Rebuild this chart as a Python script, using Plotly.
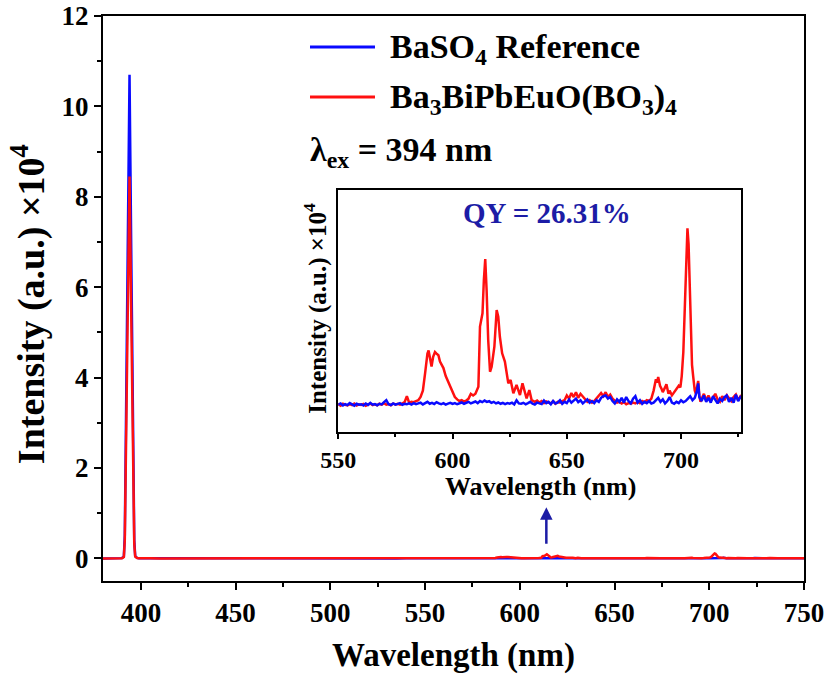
import plotly.graph_objects as go

# Emission spectra, intensities in a.u. (plotted in units of 10^4)
# BaSO4 reference: (wavelength nm, intensity)
REF_POINTS = [
    (380, 5), (383, 7), (386, 10), (388, 20), (389, 35), (390, 60), (391, 350),
    (391.5, 5000), (392, 25000), (393, 68000), (394, 107000), (395, 64000),
    (396, 20000), (396.5, 4000), (397, 500), (398, 120), (399, 40), (400, 15),
    (405, 6), (410, 9), (415, 3), (420, 8), (425, 5), (430, 10), (435, 4),
    (440, 7), (445, 2), (450, 9), (455, 5), (460, 8), (465, 3), (470, 6),
    (475, 9), (480, 4), (485, 7), (490, 2), (495, 8), (500, 5), (505, 9),
    (510, 3), (515, 6), (520, 8), (525, 4), (530, 7), (535, 2), (540, 9), (545, 5),
    (550, 4), (551, 10), (552, -2), (553, 6), (554, 0), (555, 12), (556, 3),
    (557, -4), (558, 8), (559, 2), (560, 5), (561, -3), (562, 9), (563, 1),
    (564, 14), (565, 2), (566, 6), (567, -1), (568, 8), (569, 4), (570, 18),
    (571, 30), (572, 5), (573, 0), (574, 10), (575, 3), (576, 7), (577, 12),
    (578, 2), (579, 8), (580, 5), (581, 10), (582, 3), (583, 12), (584, 6),
    (585, 9), (586, 15), (587, 4), (588, 11), (589, 20), (590, 8), (591, 14),
    (592, 6), (593, 18), (594, 10), (595, 5), (596, 12), (597, 3), (598, 9),
    (599, 14), (600, 7), (601, 12), (602, 5), (603, 10), (604, 16), (605, 8),
    (606, 13), (607, 20), (608, 10), (609, 15), (610, 22), (611, 12), (612, 25),
    (613, 18), (614, 28), (615, 20), (616, 24), (617, 14), (618, 20), (619, 10),
    (620, 16), (621, 8), (622, 14), (623, 6), (624, 12), (625, 9), (626, 15),
    (627, 4), (628, 30), (629, 10), (630, 8), (631, 14), (632, 5), (633, 12),
    (634, 20), (635, 8), (636, 3), (637, 15), (638, 10), (639, 6), (640, 28),
    (641, 12), (642, 20), (643, 5), (644, 25), (645, 10), (646, 15), (647, 30),
    (648, 8), (649, 20), (650, 12), (651, 35), (652, 15), (653, 25), (654, 40),
    (655, 18), (656, 30), (657, 10), (658, 22), (659, 35), (660, 15), (661, 25),
    (662, 12), (663, 30), (664, 20), (665, 45), (666, 55), (667, 60), (668, 40),
    (669, 50), (670, 25), (671, 10), (672, 35), (673, 20), (674, 45), (675, 15),
    (676, 50), (677, 25), (678, 10), (679, 40), (680, 55), (681, 15), (682, 30),
    (683, 8), (684, 20), (685, 12), (686, 25), (687, 10), (688, 15), (689, 30),
    (690, 45), (691, 20), (692, 35), (693, 10), (694, 25), (695, 50), (696, 15),
    (697, 8), (698, 20), (699, 12), (700, 30), (701, 18), (702, 25), (703, 40),
    (704, 55), (705, 30), (706, 45), (707, 90), (707.5, 135), (708, 50),
    (709, 25), (710, 60), (711, 20), (712, 45), (713, 15), (714, 55), (715, 30),
    (716, 10), (717, 40), (718, 25), (719, 50), (720, 60), (721, 20), (722, 45),
    (723, 15), (724, 65), (725, 25), (726, 50), (728, 30), (730, 45), (732, 20),
    (734, 40), (736, 15), (738, 35), (740, 25), (742, 10), (744, 30), (746, 20),
    (748, 35), (750, 15),
]

# Ba3BiPbEuO(BO3)4 sample: (wavelength nm, intensity)
SAMPLE_POINTS = [
    (380, 4), (383, 6), (386, 8), (388, 18), (389, 30), (390, 50), (391, 300),
    (391.5, 4000), (392, 20000), (393, 54000), (394, 84500), (395, 51000),
    (396, 16000), (396.5, 3200), (397, 400), (398, 100), (399, 30), (400, 12),
    (405, 8), (410, 5), (415, 9), (420, 4), (425, 7), (430, 3), (435, 8),
    (440, 5), (445, 6), (450, 2), (455, 9), (460, 4), (465, 7), (470, 3),
    (475, 8), (480, 5), (485, 6), (490, 2), (495, 8), (500, 5), (505, 3),
    (510, 9), (515, 4), (520, 6), (525, 2), (530, 7), (535, 4), (540, 8), (545, 3),
    (550, 5), (551, -4), (552, 8), (553, 2), (554, -2), (555, 6), (556, 0),
    (557, 9), (558, -3), (559, 4), (560, 1), (561, 7), (562, -5), (563, 3),
    (564, 10), (565, 0), (566, 5), (567, -2), (568, 8), (569, 3), (570, 12),
    (571, 2), (572, 6), (573, -1), (574, 9), (575, 4), (576, 7), (577, 2),
    (578, 10), (579, 18), (580, 55), (581, 15), (582, 20), (583, 18), (584, 25),
    (585, 30), (586, 50), (587, 90), (588, 200), (589, 320), (589.5, 340),
    (590, 300), (590.8, 240), (591.5, 300), (592.3, 330), (593, 320),
    (593.8, 310), (594.5, 270), (595.2, 250), (596, 230), (597, 180),
    (598, 150), (599, 110), (600, 80), (601, 50), (602, 35), (603, 25),
    (604, 30), (605, 22), (606, 28), (607, 40), (608, 70), (609, 60), (610, 70),
    (611.3, 114), (612, 488), (613.1, 571), (613.7, 778), (614.3, 909),
    (614.9, 716), (615.6, 405), (616.4, 207), (617.1, 238), (618.3, 363),
    (619.3, 591), (620, 550), (620.7, 425), (621.7, 322), (622.9, 270),
    (624.4, 135), (625.4, 156), (626.6, 73), (628, 125), (629.5, 62),
    (630.6, 135), (632.4, 41), (633.6, 93), (634.6, 31), (636, 20), (637, 28),
    (638, 15), (639, 25), (640, 12), (641, 22), (642, 18), (643, 10), (644, 24),
    (645, 8), (646, 20), (647, 15), (648, 25), (649, 30), (650, 60), (651, 40),
    (652, 75), (653, 50), (654, 80), (655, 45), (656, 70), (657, 55), (658, 35),
    (659, 20), (660, 30), (661, 15), (662, 25), (663, 40), (664, 60), (665, 75),
    (666, 55), (667, 80), (668, 50), (669, 65), (670, 40), (671, 25), (672, 15),
    (673, 20), (674, 10), (675, 18), (676, 5), (677, 12), (678, 8), (679, 15),
    (680, 10), (681, 20), (682, 12), (683, 25), (684, 18), (685, 30), (686, 25),
    (687, 40), (688, 90), (689, 160), (689.5, 140), (690, 175), (690.8, 120),
    (691.5, 100), (692, 80), (693, 110), (693.6, 130), (694.5, 70), (695, 90),
    (696, 60), (697, 80), (698, 100), (699, 120), (699.7, 110), (700.3, 180),
    (701, 330), (701.6, 560), (702.2, 800), (702.8, 1100), (703.3, 1000),
    (703.8, 700), (704.3, 420), (704.8, 250), (705.3, 180), (706, 90),
    (706.5, 70), (707, 120), (707.5, 150), (708, 60), (708.5, 20), (709, 40),
    (710, 70), (711, 30), (712, 60), (713, 25), (714, 45), (715, 70), (716, 35),
    (717, 20), (718, 55), (719, 30), (720, 60), (721, 40), (722, 25), (723, 50),
    (724, 65), (725, 30), (726, 55), (728, 25), (730, 40), (732, 100),
    (733, 60), (734, 30), (736, 20), (738, 35), (740, 15), (742, 30),
    (744, 20), (746, 40), (748, 25), (750, 30),
]

SCALE = 1e4
ref_wl = [p[0] for p in REF_POINTS]
ref_int = [p[1] / SCALE for p in REF_POINTS]
sam_wl = [p[0] for p in SAMPLE_POINTS]
sam_int = [p[1] / SCALE for p in SAMPLE_POINTS]

BLUE = "#0a0aff"
RED = "#ff1010"
NAVY = "#1c1ca6"
FONT = "Liberation Serif"

fig = go.Figure()

# main panel
fig.add_trace(go.Scatter(x=ref_wl, y=ref_int, mode="lines",
                         line=dict(color=BLUE, width=2.5), showlegend=False))
fig.add_trace(go.Scatter(x=sam_wl, y=sam_int, mode="lines",
                         line=dict(color=RED, width=2.5), showlegend=False))

# inset panel
fig.add_trace(go.Scatter(x=sam_wl, y=sam_int, mode="lines", xaxis="x2", yaxis="y2",
                         line=dict(color=RED, width=2.5), showlegend=False))
fig.add_trace(go.Scatter(x=ref_wl, y=ref_int, mode="lines", xaxis="x2", yaxis="y2",
                         line=dict(color=BLUE, width=2.5), showlegend=False))

axis_common = dict(showline=True, linecolor="black", linewidth=2, mirror=True,
                   showgrid=False, zeroline=False, ticks="outside",
                   tickcolor="black", tickwidth=2, automargin=False)

fig.update_layout(
    width=827, height=677,
    margin=dict(l=103, r=23, t=16, b=96),
    paper_bgcolor="white", plot_bgcolor="white",
    font=dict(family=FONT, color="black"),
    xaxis=dict(range=[380, 750], tickvals=[400, 450, 500, 550, 600, 650, 700, 750],
               ticklen=7, minor=dict(dtick=25, tick0=0, ticks="outside", ticklen=4,
                                     tickwidth=2, tickcolor="black"),
               tickfont=dict(size=27, family=FONT, weight="bold"), **axis_common),
    yaxis=dict(range=[-0.5, 12], tickvals=[0, 2, 4, 6, 8, 10, 12],
               ticklen=7, minor=dict(dtick=1, tick0=0, ticks="outside", ticklen=4,
                                     tickwidth=2, tickcolor="black"),
               tickfont=dict(size=27, family=FONT, weight="bold"), **axis_common),
    xaxis2=dict(domain=[0.3357, 0.910], anchor="y2", range=[550, 726.2],
                tickvals=[550, 600, 650, 700], ticklen=5,
                minor=dict(dtick=25, tick0=0, ticks="outside", ticklen=3,
                           tickwidth=2, tickcolor="black"),
                tickfont=dict(size=24, family=FONT, weight="bold"), **axis_common),
    yaxis2=dict(domain=[0.2642, 0.692], anchor="x2", range=[-0.0166, 0.1338],
                showticklabels=False, showline=True, linecolor="black", linewidth=2,
                mirror=True, showgrid=False, zeroline=False, ticks="",
                automargin=False),
)

# white backing for the inset frame
fig.add_shape(type="rect", xref="x2 domain", yref="y2 domain", x0=0, x1=1, y0=0, y1=1,
              fillcolor="white", line=dict(width=0), layer="below")

# legend samples
fig.add_shape(type="line", xref="paper", yref="paper", x0=0.2953, x1=0.388,
              y0=0.945, y1=0.945, line=dict(color=BLUE, width=3))
fig.add_shape(type="line", xref="paper", yref="paper", x0=0.2953, x1=0.388,
              y0=0.8566, y1=0.8566, line=dict(color=RED, width=3))

bold = dict(family=FONT, color="black", weight="bold")
ann = [
    dict(text="BaSO<sub>4</sub> Reference", x=0.4066, y=0.942, xanchor="left",
         yanchor="middle", font=dict(size=34, **bold)),
    dict(text="Ba<sub>3</sub>BiPbEuO(BO<sub>3</sub>)<sub>4</sub>", x=0.4066, y=0.8536,
         xanchor="left", yanchor="middle", font=dict(size=34, **bold)),
    dict(text="λ<sub>ex</sub> = 394 nm", x=0.2924, y=0.76, xanchor="left",
         yanchor="middle", font=dict(size=34, **bold)),
    dict(text="Wavelength (nm)", x=0.5, y=-0.131, xanchor="center", yanchor="middle",
         font=dict(size=33, **bold)),
    dict(text="Intensity (a.u.) ×10<sup>4</sup>", x=-0.107, y=0.49, xanchor="center",
         yanchor="middle", textangle=-90, font=dict(size=38, **bold)),
    dict(text="Wavelength (nm)", x=0.624, y=0.168, xanchor="center", yanchor="middle",
         font=dict(size=26, **bold)),
    dict(text="Intensity (a.u.) ×10<sup>4</sup>", x=0.304, y=0.482, xanchor="center",
         yanchor="middle", textangle=-90, font=dict(size=25, **bold)),
    dict(text="QY = 26.31%", x=0.6334, y=0.6513, xanchor="center", yanchor="middle",
         font=dict(size=29, family=FONT, color=NAVY, weight="bold")),
]
for a in ann:
    fig.add_annotation(xref="paper", yref="paper", showarrow=False, **a)

# pointer from the 614 nm band up to the inset
fig.add_annotation(x=614, y=1.13, xref="x", yref="y", ax=0, ay=38, text="",
                   showarrow=True, arrowhead=2, arrowsize=1, arrowwidth=2.5,
                   arrowcolor=NAVY)

fig.write_html("out.html")
